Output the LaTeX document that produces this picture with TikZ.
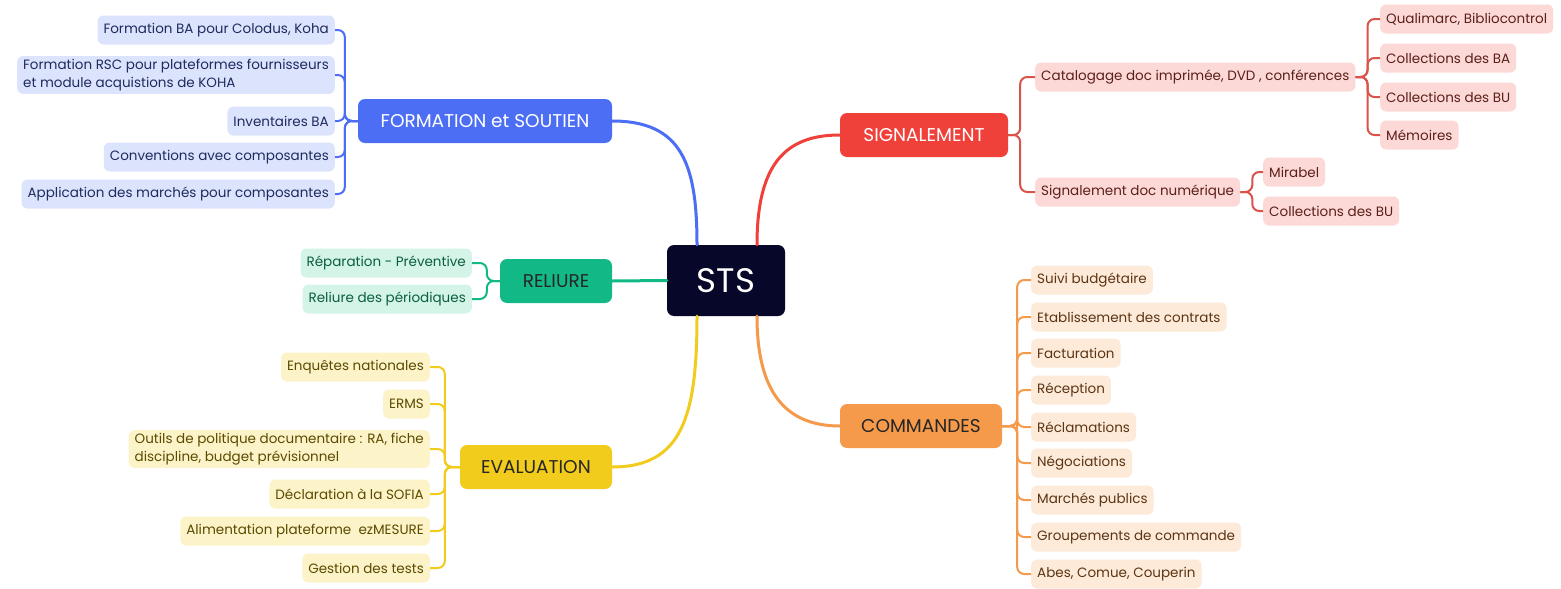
\documentclass[tikz,border=0pt]{standalone}
\usepackage{fontspec}
\setmainfont{Poppins}
\definecolor{bmain}{HTML}{4C6EF5}
\definecolor{bfill}{HTML}{DCE3FD}
\definecolor{btext}{HTML}{1E2B5E}
\definecolor{rmain}{HTML}{F0403A}
\definecolor{rline}{HTML}{D9534A}
\definecolor{rfill}{HTML}{FCD9D6}
\definecolor{rtext}{HTML}{5C1F1A}
\definecolor{gmain}{HTML}{12B886}
\definecolor{gfill}{HTML}{D3F4E6}
\definecolor{gtext}{HTML}{0B5E43}
\definecolor{ymain}{HTML}{F2CC1C}
\definecolor{yfill}{HTML}{FDF3C8}
\definecolor{ytext}{HTML}{5A4B00}
\definecolor{omain}{HTML}{F59A4A}
\definecolor{ofill}{HTML}{FDEAD8}
\definecolor{otext}{HTML}{5B3515}
\definecolor{stsfill}{HTML}{07072A}
\begin{document}
\begin{tikzpicture}[x=1pt,y=-1pt,
  leaf/.style={rounded corners=6pt, minimum height=29pt, inner xsep=6pt, inner ysep=3pt, font=\fontsize{13.5}{18}\selectfont, align=left},
  bl/.style={leaf, fill=bfill, text=btext},
  rl/.style={leaf, fill=rfill, text=rtext},
  gl/.style={leaf, fill=gfill, text=gtext},
  yl/.style={leaf, fill=yfill, text=ytext},
  ol/.style={leaf, fill=ofill, text=otext},
  mainbox/.style={rounded corners=7pt, minimum height=44pt, inner sep=0pt, font=\fontsize{18.5}{22}\selectfont},
  con/.style={line width=2pt, rounded corners=7pt},
  maincon/.style={line width=3pt, line cap=round}]
\useasboundingbox (0,0) rectangle (1561,589);
\fill[white] (0,0) rectangle (1561,589);

% main nodes
\node[mainbox, fill=stsfill, text=white, minimum width=118pt, minimum height=71pt, font=\fontsize{34}{38}\selectfont] (sts) at (726,280.5) {STS};
\node[mainbox, fill=bmain, text=white, minimum width=254pt] (fo) at (485,121) {FORMATION et SOUTIEN};
\node[mainbox, fill=rmain, text=white, minimum width=168pt] (sig) at (924,135) {SIGNALEMENT};
\node[mainbox, fill=gmain, text=black!85, minimum width=112pt] (rel) at (556,281) {RELIURE};
\node[mainbox, fill=omain, text=black!85, minimum width=162pt] (com) at (921,426) {COMMANDES};
\node[mainbox, fill=ymain, text=black!85, minimum width=152pt] (ev) at (536,467) {EVALUATION};

% main connectors
\draw[maincon, bmain] ([xshift=-29pt]sts.north) .. controls +(0,-80) and +(70,0) .. (fo.east);
\draw[maincon, rmain] ([xshift=31pt]sts.north) .. controls +(0,-80) and +(-55,0) .. (sig.west);
\draw[maincon, gmain] (sts.west) -- (rel.east);
\draw[maincon, ymain] ([xshift=-29pt]sts.south) .. controls +(0,100) and +(70,0) .. (ev.east);
\draw[maincon, omain] ([xshift=31pt]sts.south) .. controls +(0,75) and +(-55,0) .. (com.west);

% blue leaves
\node[bl, anchor=east] (b1) at (335,30) {Formation BA pour Colodus, Koha};
\node[bl, anchor=east] (b2) at (335,75) {Formation RSC pour plateformes fournisseurs\\et module acquistions de KOHA};
\node[bl, anchor=east] (b3) at (335,121) {Inventaires BA};
\node[bl, anchor=east] (b4) at (335,157) {Conventions avec composantes};
\node[bl, anchor=east] (b5) at (335,194) {Application des marchés pour composantes};
\foreach \n in {b1,b2,b3,b4,b5}
  \draw[con, bmain] (fo.west) -- ++(-13,0) |- (\n.east);

% red leaves
\node[rl, anchor=west] (r1) at (1035,77) {Catalogage doc imprimée, DVD , conférences};
\node[rl, anchor=west] (r2) at (1035,192) {Signalement doc numérique};
\foreach \n in {r1,r2}
  \draw[con, rline] (sig.east) -- ++(12,0) |- (\n.west);
\node[rl, anchor=west] (r11) at (1380,19) {Qualimarc, Bibliocontrol};
\node[rl, anchor=west] (r12) at (1380,58) {Collections des BA};
\node[rl, anchor=west] (r13) at (1380,97) {Collections des BU};
\node[rl, anchor=west] (r14) at (1380,135) {Mémoires};
\foreach \n in {r11,r12,r13,r14}
  \draw[con, rline] (r1.east) -- ++(12,0) |- (\n.west);
\node[rl, anchor=west] (r21) at (1263,172) {Mirabel};
\node[rl, anchor=west] (r22) at (1263,211) {Collections des BU};
\foreach \n in {r21,r22}
  \draw[con, rline] (r2.east) -- ++(12,0) |- (\n.west);

% green leaves
\node[gl, anchor=east] (g1) at (472,263) {Réparation - Préventive};
\node[gl, anchor=east] (g2) at (472,299) {Reliure des périodiques};
\foreach \n in {g1,g2}
  \draw[con, gmain] (rel.west) -- ++(-13,0) |- (\n.east);

% yellow leaves
\node[yl, anchor=east] (y1) at (430,367) {Enquêtes nationales};
\node[yl, anchor=east] (y2) at (430,404) {ERMS};
\node[yl, anchor=east] (y3) at (430,449) {Outils de politique documentaire : RA, fiche\\discipline, budget prévisionnel};
\node[yl, anchor=east] (y4) at (430,494) {Déclaration à la SOFIA};
\node[yl, anchor=east] (y5) at (430,531) {Alimentation plateforme\ \ ezMESURE};
\node[yl, anchor=east] (y6) at (430,568) {Gestion des tests};
\foreach \n in {y1,y2,y3,y4,y5,y6}
  \draw[con, ymain] (ev.west) -- ++(-15,0) |- (\n.east);

% orange leaves
\node[ol, anchor=west] (o1) at (1031,280) {Suivi budgétaire};
\node[ol, anchor=west] (o2) at (1031,317) {Etablissement des contrats};
\node[ol, anchor=west] (o3) at (1031,353) {Facturation};
\node[ol, anchor=west] (o4) at (1031,390) {Réception};
\node[ol, anchor=west] (o5) at (1031,427) {Réclamations};
\node[ol, anchor=west] (o6) at (1031,463) {Négociations};
\node[ol, anchor=west] (o7) at (1031,500) {Marchés publics};
\node[ol, anchor=west] (o8) at (1031,537) {Groupements de commande};
\node[ol, anchor=west] (o9) at (1031,574) {Abes, Comue, Couperin};
\foreach \n in {o1,o2,o3,o4,o5,o6,o7,o8,o9}
  \draw[con, omain] (com.east) -- ++(15,0) |- (\n.west);
\end{tikzpicture}
\end{document}
